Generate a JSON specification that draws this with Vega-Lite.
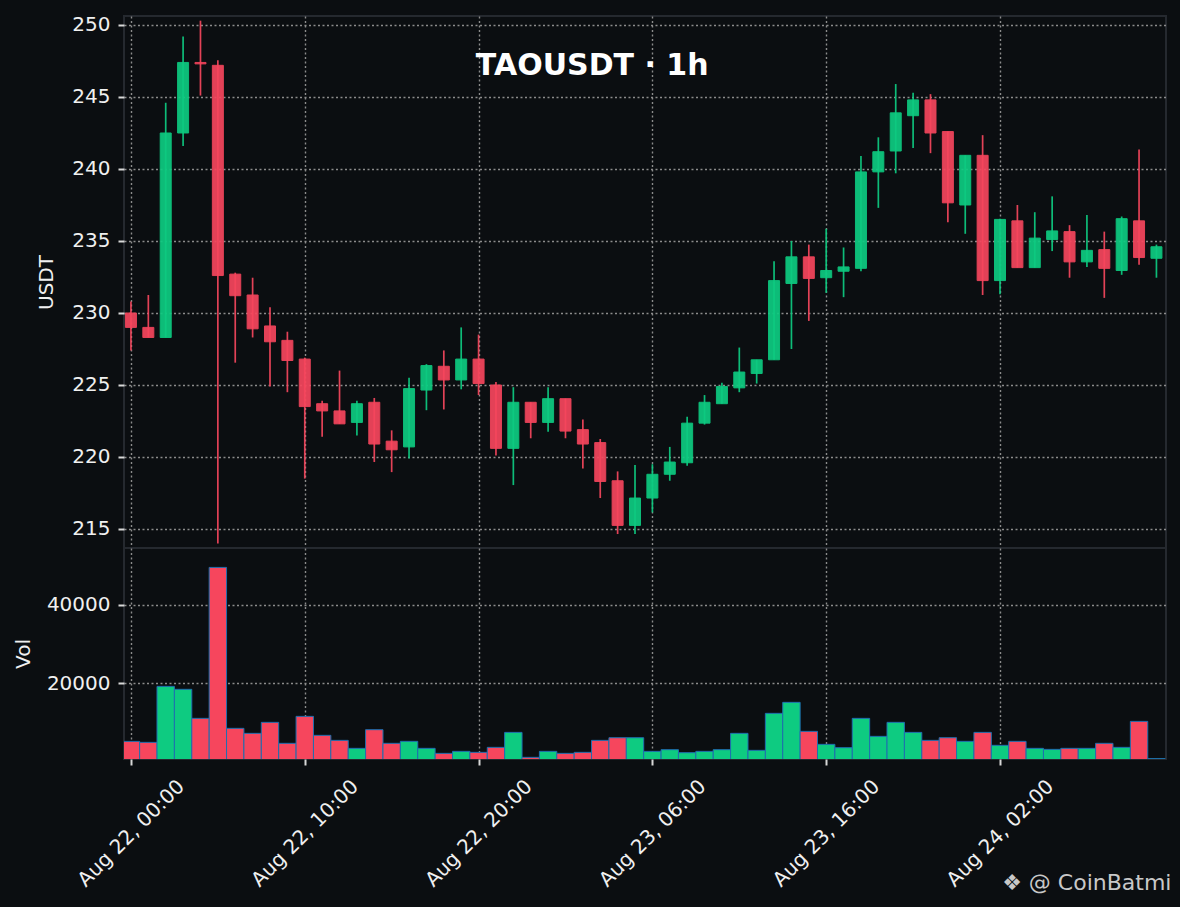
{
  "$schema": "https://vega.github.io/schema/vega-lite/v6.json",
  "background": "#0b0e11",
  "padding": {"left": 12, "right": 8, "top": 13, "bottom": 15},
  "spacing": 0,
  "bounds": "flush",
  "title": {
    "text": "TAOUSDT · 1h",
    "font": "DejaVu Sans",
    "fontSize": 30,
    "fontWeight": "bold",
    "color": "#ffffff",
    "anchor": "middle",
    "frame": "bounds",
    "offset": 0,
    "baseline": "alphabetic",
    "dy": 91
  },
  "data": {
    "values": [
      {"t": "2024-08-22T00:00:00Z", "open": 230.0, "high": 230.8, "low": 227.4, "close": 229.0, "volume": 5100},
      {"t": "2024-08-22T01:00:00Z", "open": 229.0, "high": 231.25, "low": 228.3, "close": 228.3, "volume": 4850},
      {"t": "2024-08-22T02:00:00Z", "open": 228.3, "high": 244.6, "low": 228.3, "close": 242.5, "volume": 19150},
      {"t": "2024-08-22T03:00:00Z", "open": 242.5, "high": 249.2, "low": 241.6, "close": 247.4, "volume": 18400},
      {"t": "2024-08-22T04:00:00Z", "open": 247.4, "high": 250.3, "low": 245.1, "close": 247.3, "volume": 10980},
      {"t": "2024-08-22T05:00:00Z", "open": 247.2, "high": 247.55, "low": 214.0, "close": 232.6, "volume": 49540},
      {"t": "2024-08-22T06:00:00Z", "open": 232.7, "high": 232.8, "low": 226.55, "close": 231.2, "volume": 8430},
      {"t": "2024-08-22T07:00:00Z", "open": 231.25, "high": 232.45, "low": 228.3, "close": 228.9, "volume": 7150},
      {"t": "2024-08-22T08:00:00Z", "open": 229.1, "high": 230.4, "low": 224.9, "close": 228.0, "volume": 9960},
      {"t": "2024-08-22T09:00:00Z", "open": 228.1, "high": 228.7, "low": 224.5, "close": 226.7, "volume": 4600},
      {"t": "2024-08-22T10:00:00Z", "open": 226.8, "high": 226.9, "low": 218.5, "close": 223.5, "volume": 11490},
      {"t": "2024-08-22T11:00:00Z", "open": 223.7, "high": 223.9, "low": 221.4, "close": 223.2, "volume": 6640},
      {"t": "2024-08-22T12:00:00Z", "open": 223.2, "high": 226.0, "low": 222.3, "close": 222.3, "volume": 5360},
      {"t": "2024-08-22T13:00:00Z", "open": 222.4, "high": 223.9, "low": 221.5, "close": 223.7, "volume": 3320},
      {"t": "2024-08-22T14:00:00Z", "open": 223.8, "high": 224.1, "low": 219.65, "close": 220.9, "volume": 8090},
      {"t": "2024-08-22T15:00:00Z", "open": 221.1, "high": 221.85, "low": 218.95, "close": 220.5, "volume": 4600},
      {"t": "2024-08-22T16:00:00Z", "open": 220.7, "high": 225.5, "low": 219.9, "close": 224.75, "volume": 5110},
      {"t": "2024-08-22T17:00:00Z", "open": 224.65, "high": 226.45, "low": 223.25, "close": 226.35, "volume": 3320},
      {"t": "2024-08-22T18:00:00Z", "open": 226.3, "high": 227.4, "low": 223.3, "close": 225.35, "volume": 2040},
      {"t": "2024-08-22T19:00:00Z", "open": 225.35, "high": 229.0, "low": 224.7, "close": 226.8, "volume": 2550},
      {"t": "2024-08-22T20:00:00Z", "open": 226.8, "high": 228.5, "low": 224.3, "close": 225.1, "volume": 2300},
      {"t": "2024-08-22T21:00:00Z", "open": 225.0, "high": 225.2, "low": 220.1, "close": 220.6, "volume": 3570},
      {"t": "2024-08-22T22:00:00Z", "open": 220.6, "high": 224.85, "low": 218.05, "close": 223.8, "volume": 7400},
      {"t": "2024-08-22T23:00:00Z", "open": 223.8, "high": 223.8, "low": 221.3, "close": 222.4, "volume": 1020},
      {"t": "2024-08-23T00:00:00Z", "open": 222.4, "high": 224.85, "low": 221.75, "close": 224.05, "volume": 2550},
      {"t": "2024-08-23T01:00:00Z", "open": 224.05, "high": 224.05, "low": 221.3, "close": 221.8, "volume": 2040},
      {"t": "2024-08-23T02:00:00Z", "open": 221.9, "high": 222.6, "low": 219.2, "close": 220.9, "volume": 2300},
      {"t": "2024-08-23T03:00:00Z", "open": 221.0, "high": 221.25, "low": 217.15, "close": 218.3, "volume": 5360},
      {"t": "2024-08-23T04:00:00Z", "open": 218.35, "high": 219.0, "low": 214.65, "close": 215.25, "volume": 6040},
      {"t": "2024-08-23T05:00:00Z", "open": 215.25, "high": 219.45, "low": 214.65, "close": 217.15, "volume": 6040},
      {"t": "2024-08-23T06:00:00Z", "open": 217.15, "high": 219.5, "low": 216.15, "close": 218.8, "volume": 2550},
      {"t": "2024-08-23T07:00:00Z", "open": 218.8, "high": 220.7, "low": 218.35, "close": 219.65, "volume": 2980},
      {"t": "2024-08-23T08:00:00Z", "open": 219.6, "high": 222.8, "low": 219.4, "close": 222.35, "volume": 2210},
      {"t": "2024-08-23T09:00:00Z", "open": 222.35, "high": 224.3, "low": 222.25, "close": 223.8, "volume": 2550},
      {"t": "2024-08-23T10:00:00Z", "open": 223.7, "high": 225.15, "low": 223.7, "close": 224.9, "volume": 2980},
      {"t": "2024-08-23T11:00:00Z", "open": 224.8, "high": 227.6, "low": 224.5, "close": 225.9, "volume": 7150},
      {"t": "2024-08-23T12:00:00Z", "open": 225.8, "high": 226.75, "low": 225.1, "close": 226.75, "volume": 2810},
      {"t": "2024-08-23T13:00:00Z", "open": 226.75, "high": 233.6, "low": 226.75, "close": 232.25, "volume": 12260},
      {"t": "2024-08-23T14:00:00Z", "open": 232.05, "high": 235.0, "low": 227.5, "close": 233.9, "volume": 15070},
      {"t": "2024-08-23T15:00:00Z", "open": 233.9, "high": 234.75, "low": 229.45, "close": 232.4, "volume": 7660},
      {"t": "2024-08-23T16:00:00Z", "open": 232.45, "high": 235.85, "low": 231.4, "close": 232.95, "volume": 4340},
      {"t": "2024-08-23T17:00:00Z", "open": 232.9, "high": 234.55, "low": 231.1, "close": 233.2, "volume": 3490},
      {"t": "2024-08-23T18:00:00Z", "open": 233.1, "high": 240.9, "low": 232.9, "close": 239.8, "volume": 10980},
      {"t": "2024-08-23T19:00:00Z", "open": 239.8, "high": 242.2, "low": 237.3, "close": 241.2, "volume": 6380},
      {"t": "2024-08-23T20:00:00Z", "open": 241.25, "high": 245.9, "low": 239.7, "close": 243.9, "volume": 9960},
      {"t": "2024-08-23T21:00:00Z", "open": 243.7, "high": 245.3, "low": 241.45, "close": 244.8, "volume": 7400},
      {"t": "2024-08-23T22:00:00Z", "open": 244.8, "high": 245.2, "low": 241.1, "close": 242.5, "volume": 5360},
      {"t": "2024-08-23T23:00:00Z", "open": 242.6, "high": 242.6, "low": 236.3, "close": 237.65, "volume": 6040},
      {"t": "2024-08-24T00:00:00Z", "open": 237.5, "high": 240.95, "low": 235.5, "close": 240.95, "volume": 5110},
      {"t": "2024-08-24T01:00:00Z", "open": 240.95, "high": 242.35, "low": 231.25, "close": 232.25, "volume": 7400},
      {"t": "2024-08-24T02:00:00Z", "open": 232.25, "high": 236.55, "low": 231.3, "close": 236.5, "volume": 4090},
      {"t": "2024-08-24T03:00:00Z", "open": 236.4, "high": 237.5, "low": 233.15, "close": 233.15, "volume": 5110},
      {"t": "2024-08-24T04:00:00Z", "open": 233.15, "high": 237.0, "low": 233.15, "close": 235.2, "volume": 3320},
      {"t": "2024-08-24T05:00:00Z", "open": 235.1, "high": 238.1, "low": 234.3, "close": 235.7, "volume": 3060},
      {"t": "2024-08-24T06:00:00Z", "open": 235.65, "high": 236.1, "low": 232.45, "close": 233.55, "volume": 3320},
      {"t": "2024-08-24T07:00:00Z", "open": 233.55, "high": 236.8, "low": 233.2, "close": 234.35, "volume": 3320},
      {"t": "2024-08-24T08:00:00Z", "open": 234.4, "high": 235.65, "low": 231.05, "close": 233.1, "volume": 4600},
      {"t": "2024-08-24T09:00:00Z", "open": 232.95, "high": 236.7, "low": 232.65, "close": 236.55, "volume": 3570},
      {"t": "2024-08-24T10:00:00Z", "open": 236.4, "high": 241.35, "low": 233.35, "close": 233.85, "volume": 10210},
      {"t": "2024-08-24T11:00:00Z", "open": 233.8, "high": 234.75, "low": 232.45, "close": 234.6, "volume": 700}
    ]
  },
  "vconcat": [
    {
      "width": 1042,
      "height": 532,
      "encoding": {
        "x": {
          "field": "t",
          "type": "temporal",
          "scale": {
            "type": "utc",
            "padding": 0,
            "domain": [
              {"year": 2024, "month": 8, "date": 21, "hours": 23, "minutes": 36, "utc": true},
              {"year": 2024, "month": 8, "date": 24, "hours": 11, "minutes": 33, "utc": true}
            ]
          },
          "axis": {
            "title": null,
            "labels": false,
            "ticks": false,
            "grid": true,
            "values": [
              {"year": 2024, "month": 8, "date": 22, "hours": 0, "utc": true},
              {"year": 2024, "month": 8, "date": 22, "hours": 10, "utc": true},
              {"year": 2024, "month": 8, "date": 22, "hours": 20, "utc": true},
              {"year": 2024, "month": 8, "date": 23, "hours": 6, "utc": true},
              {"year": 2024, "month": 8, "date": 23, "hours": 16, "utc": true},
              {"year": 2024, "month": 8, "date": 24, "hours": 2, "utc": true}
            ]
          }
        },
        "color": {
          "condition": {"test": "datum.close < datum.open", "value": "#f6465d"},
          "value": "#0ecb81"
        }
      },
      "layer": [
        {
          "mark": {"type": "rule", "strokeWidth": 1.7, "opacity": 0.92},
          "encoding": {
            "y": {
              "field": "low",
              "type": "quantitative",
              "scale": {"domain": [213.68, 250.625], "nice": false, "zero": false},
              "axis": {
                "title": "USDT",
                "values": [215, 220, 225, 230, 235, 240, 245, 250],
                "grid": true,
                "labelPadding": 8,
                "titlePadding": 15
              }
            },
            "y2": {"field": "high"}
          }
        },
        {
          "mark": {"type": "bar", "width": 11, "strokeWidth": 1, "opacity": 0.92},
          "encoding": {
            "y": {"field": "open", "type": "quantitative"},
            "y2": {"field": "close"},
            "stroke": {
              "condition": {"test": "datum.close < datum.open", "value": "#f6465d"},
              "value": "#0ecb81"
            }
          }
        }
      ]
    },
    {
      "width": 1042,
      "height": 211,
      "mark": {"type": "bar", "width": 17.4, "stroke": "#1f6fb0", "strokeWidth": 1, "clip": true},
      "encoding": {
        "x": {
          "field": "t",
          "type": "temporal",
          "scale": {
            "type": "utc",
            "padding": 0,
            "domain": [
              {"year": 2024, "month": 8, "date": 21, "hours": 23, "minutes": 36, "utc": true},
              {"year": 2024, "month": 8, "date": 24, "hours": 11, "minutes": 33, "utc": true}
            ]
          },
          "axis": {
            "values": [
              {"year": 2024, "month": 8, "date": 22, "hours": 0, "utc": true},
              {"year": 2024, "month": 8, "date": 22, "hours": 10, "utc": true},
              {"year": 2024, "month": 8, "date": 22, "hours": 20, "utc": true},
              {"year": 2024, "month": 8, "date": 23, "hours": 6, "utc": true},
              {"year": 2024, "month": 8, "date": 23, "hours": 16, "utc": true},
              {"year": 2024, "month": 8, "date": 24, "hours": 2, "utc": true}
            ],
            "labelExpr": "utcFormat(datum.value, '%b %d, %H:%M')",
            "grid": true,
            "labelAngle": -45,
            "labelAlign": "center",
            "labelBaseline": "middle",
            "labelPadding": 68,
            "labelOverlap": false,
            "labelFlush": false,
            "title": "❖ @ CoinBatmi",
            "titleX": 1047,
            "titleY": 130,
            "titleAlign": "right",
            "titleBaseline": "alphabetic",
            "titleAngle": 0,
            "titleFontSize": 22,
            "titleColor": "#c8c8c8"
          }
        },
        "y": {
          "field": "volume",
          "type": "quantitative",
          "scale": {"domain": [600, 54500], "nice": false, "zero": false},
          "axis": {
            "title": "Vol",
            "values": [20000, 40000],
            "format": "d",
            "grid": true,
            "labelPadding": 8,
            "titlePadding": 13
          }
        },
        "color": {
          "condition": {"test": "datum.close < datum.open", "value": "#f6465d"},
          "value": "#0ecb81"
        }
      }
    }
  ],
  "config": {
    "view": {"stroke": "#25292f", "strokeWidth": 2},
    "axis": {
      "domain": false,
      "labelFont": "DejaVu Sans",
      "labelFontSize": 20,
      "labelColor": "#f0f0f0",
      "titleFont": "DejaVu Sans",
      "titleFontSize": 20,
      "titleFontWeight": "normal",
      "titleColor": "#f0f0f0",
      "tickColor": "#d8d8d8",
      "tickSize": 6,
      "tickWidth": 2,
      "gridColor": "#8c8c8c",
      "gridDash": [2, 2.5],
      "gridWidth": 1.4
    }
  }
}
